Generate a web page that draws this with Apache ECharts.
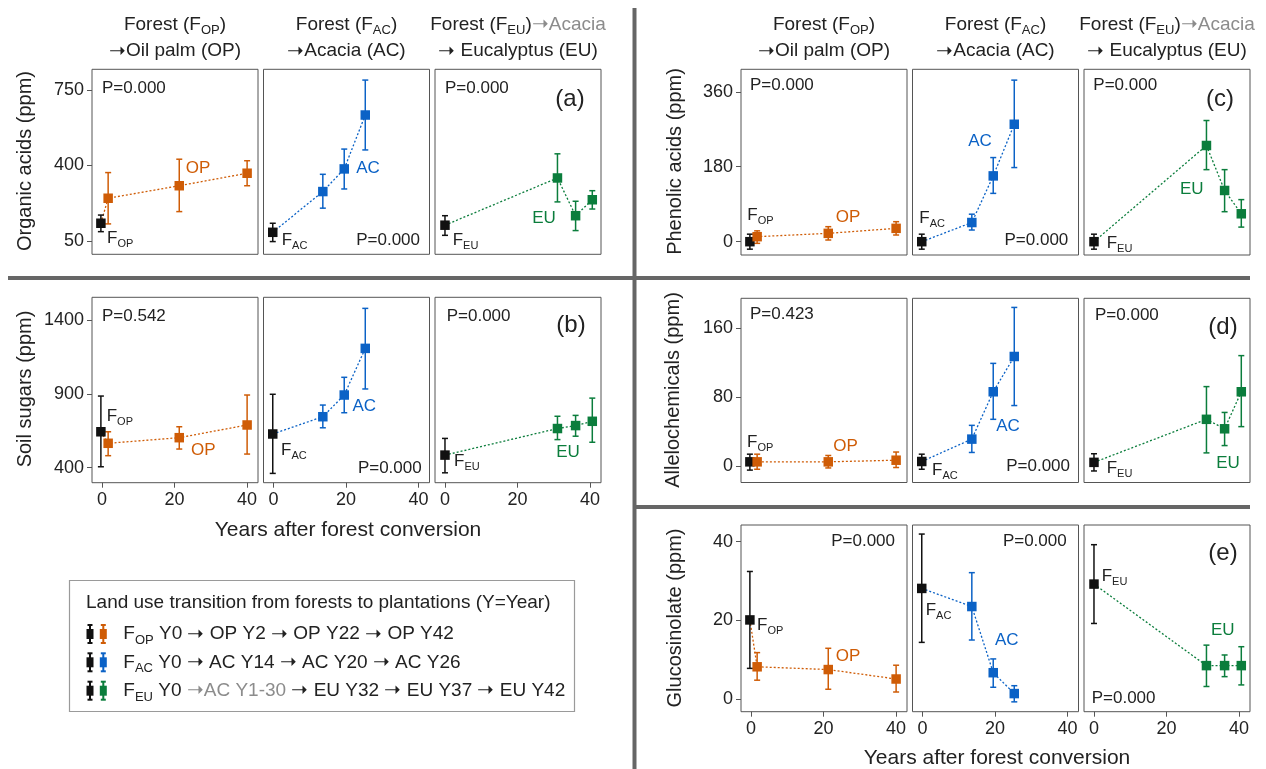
<!DOCTYPE html>
<html lang="en">
<head>
<meta charset="UTF-8">
<title>Forest to plantation conversion</title>
<script src="https://cdn.jsdelivr.net/npm/echarts@6/dist/echarts.min.js"></script>
<style>
  html, body { margin: 0; padding: 0; background: #fff; }
  #chart { width: 1266px; height: 769px; }
</style>
</head>
<body>
<div id="chart"></div>
<script>
const FONT = '"Liberation Sans", Arial, Helvetica, sans-serif';
const INK = '#222';
const ARROW = '\u279D';

// years after conversion: forest reference, then the three plantation ages
const yearsOP = [-0.3, 1.7, 21.3, 40];
const yearsAC = [-0.2, 13.6, 19.5, 25.3];
const yearsEU = [0, 31, 36, 40.6];
const xTicks = [0, 20, 40];

// [mean, lower, upper] for forest then plantations
const organicOP = [[132, 93, 170], [248, 129, 367], [306, 186, 429], [364, 306, 422]];
const organicAC = [[90, 47, 132], [279, 202, 359], [384, 291, 476], [634, 472, 796]];
const organicEU = [[123, 76, 167], [342, 231, 454], [167, 98, 234], [241, 198, 283]];
const organicTicks = [50, 400, 750];

const sugarOP = [[643, 406, 885], [565, 481, 643], [603, 526, 677], [689, 492, 892]];
const sugarAC = [[628, 361, 897], [745, 670, 824], [892, 772, 1012], [1208, 933, 1479]];
const sugarEU = [[485, 365, 598], [665, 590, 748], [685, 613, 754], [714, 572, 871]];
const sugarTicks = [400, 900, 1400];

const phenolicOP = [[0, -18, 18], [12, -4, 26], [20, 4, 36], [32, 16, 48]];
const phenolicAC = [[0, -18, 18], [46, 28, 66], [158, 116, 202], [282, 178, 388]];
const phenolicEU = [[0, -18, 18], [231, 173, 291], [123, 72, 173], [67, 35, 101]];
const phenolicTicks = [0, 180, 360];

const alleloOP = [[4.6, -5, 13.5], [4.6, -4, 13.5], [4.6, -2.5, 12], [6.5, -2, 16]];
const alleloAC = [[5, -4, 13.5], [31, 15.5, 47], [86, 54, 119], [127, 70, 184]];
const alleloEU = [[4, -6, 14], [54, 15, 92], [43, 23.5, 62], [86, 45.5, 128]];
const alleloTicks = [0, 80, 160];

const glucoOP = [[20.1, 7.8, 32.4], [8.2, 4.8, 11.8], [7.5, 2.5, 12.9], [5.1, 1.8, 8.6]];
const glucoAC = [[28.1, 14.4, 41.9], [23.5, 15, 32.1], [6.7, 3, 10.2], [1.4, -0.7, 3.4]];
const glucoEU = [[29.2, 19.2, 39.2], [8.5, 3.2, 13.7], [8.5, 5.7, 11.2], [8.5, 3.6, 13.3]];
const glucoTicks = [0, 20, 40];

const siteYears = [yearsOP, yearsAC, yearsEU];
const siteColors = ['#cf5c06', '#0b62c6', '#0b7d3c'];

const L_COLS = [92, 263.5, 435];
const R_COLS = [741, 912.5, 1084];
const BOX_W = 166;

const panels = [
  { sets: [organicOP, organicAC, organicEU], ticks: organicTicks, min: -12, max: 846, cols: L_COLS, top: 69.3, h: 185, xLab: false },
  { sets: [sugarOP, sugarAC, sugarEU], ticks: sugarTicks, min: 298, max: 1554, cols: L_COLS, top: 297.3, h: 185.4, xLab: true },
  { sets: [phenolicOP, phenolicAC, phenolicEU], ticks: phenolicTicks, min: -32, max: 414, cols: R_COLS, top: 69.3, h: 185.7, xLab: false },
  { sets: [alleloOP, alleloAC, alleloEU], ticks: alleloTicks, min: -19.4, max: 194.6, cols: R_COLS, top: 298.3, h: 184.2, xLab: false },
  { sets: [glucoOP, glucoAC, glucoEU], ticks: glucoTicks, min: -3.2, max: 44.2, cols: R_COLS, top: 525, h: 186.7, xLab: true }
];

function errorBar(params, api) {
  const x = api.value(0);
  const lo = api.coord([x, api.value(1)]);
  const hi = api.coord([x, api.value(2)]);
  const style = { stroke: api.visual('color'), lineWidth: 1.5 };
  const w = 3;
  return {
    type: 'group',
    children: [
      { type: 'line', shape: { x1: lo[0], y1: lo[1], x2: hi[0], y2: hi[1] }, style },
      { type: 'line', shape: { x1: lo[0] - w, y1: lo[1], x2: lo[0] + w, y2: lo[1] }, style },
      { type: 'line', shape: { x1: hi[0] - w, y1: hi[1], x2: hi[0] + w, y2: hi[1] }, style }
    ]
  };
}

const plain = v => String(v);
const grids = [], xAxes = [], yAxes = [], series = [];
panels.forEach(p => {
  p.cols.forEach((left, si) => {
    const g = grids.length;
    const first = si === 0;
    grids.push({ left, top: p.top, width: BOX_W, height: p.h, show: true,
      borderColor: '#555', borderWidth: 1, outerBoundsMode: 'none' });
    xAxes.push({
      type: 'value', gridIndex: g, min: -2.75, max: 43,
      axisLine: { show: false, onZero: false }, splitLine: { show: false },
      axisTick: { show: p.xLab, customValues: xTicks, length: 5, lineStyle: { color: '#555' } },
      axisLabel: { show: p.xLab, customValues: xTicks, formatter: plain, fontSize: 18, color: INK, fontFamily: FONT, margin: 8 }
    });
    yAxes.push({
      type: 'value', gridIndex: g, min: p.min, max: p.max,
      axisLine: { show: false, onZero: false }, splitLine: { show: false },
      axisTick: { show: first, customValues: p.ticks, length: 5, lineStyle: { color: '#555' } },
      axisLabel: { show: first, customValues: p.ticks, formatter: plain, fontSize: 18, color: INK, fontFamily: FONT, margin: 8 }
    });
    const xs = siteYears[si], vals = p.sets[si], col = siteColors[si];
    series.push({
      type: 'line', xAxisIndex: g, yAxisIndex: g, silent: true, z: 2,
      symbol: 'none', lineStyle: { color: col, width: 1.3, type: [2, 2] },
      data: xs.map((x, i) => [x, vals[i][0]])
    });
    series.push({
      type: 'custom', xAxisIndex: g, yAxisIndex: g, silent: true, z: 3,
      renderItem: errorBar, encode: { x: 0, y: [1, 2] },
      data: xs.map((x, i) => ({ value: [x, vals[i][1], vals[i][2]], itemStyle: { color: i ? col : '#111' } }))
    });
    series.push({
      type: 'scatter', xAxisIndex: g, yAxisIndex: g, silent: true, z: 4,
      symbol: 'rect', symbolSize: 9.5,
      data: xs.map((x, i) => ({ value: [x, vals[i][0]], itemStyle: { color: i ? col : '#111', opacity: 1 } }))
    });
  });
});

function T(x, y, text, o) {
  o = o || {};
  const size = o.size || 17;
  const color = o.color || INK;
  const align = o.align || 'left';
  return {
    type: 'text', x, y, z: 100, silent: true, rotation: o.rot || 0,
    style: {
      text, fill: color, font: size + 'px ' + FONT,
      align, textAlign: align, verticalAlign: 'middle', textVerticalAlign: 'middle',
      rich: {
        s: { fontSize: Math.round(size * 0.66), fontFamily: FONT, fill: color, padding: [Math.round(size * 0.66), 0, 0, 0] },
        a: { fontSize: Math.round(size * 1.05), fontFamily: FONT, fill: color },
        ga: { fontSize: Math.round(size * 1.05), fontFamily: FONT, fill: '#8c8c8c' },
        g: { fontSize: size, fontFamily: FONT, fill: '#8c8c8c' }
      }
    }
  };
}
const sep = (x1, y1, x2, y2) => ({ type: 'line', z: 90, silent: true,
  shape: { x1, y1, x2, y2 }, style: { stroke: '#666', lineWidth: 4 } });

const gfx = [];
// panel separators
gfx.push(sep(8, 278, 633, 278), sep(634.5, 8, 634.5, 769), sep(636, 278, 1250, 278), sep(636, 507, 1250, 507));

// column headers
const arr = '{a|' + ARROW + '}';
[[175, 346.5, 518], [824, 995.5, 1167]].forEach(c => {
  gfx.push(T(c[0], 24.3, 'Forest (F{s|OP})', { size: 19, align: 'center' }));
  gfx.push(T(c[0], 51, arr + 'Oil palm (OP)', { size: 19, align: 'center' }));
  gfx.push(T(c[1], 24.3, 'Forest (F{s|AC})', { size: 19, align: 'center' }));
  gfx.push(T(c[1], 51, arr + 'Acacia (AC)', { size: 19, align: 'center' }));
  gfx.push(T(c[2], 24.3, 'Forest (F{s|EU}){ga|' + ARROW + '}{g|Acacia}', { size: 19, align: 'center' }));
  gfx.push(T(c[2], 51, arr + ' Eucalyptus (EU)', { size: 19, align: 'center' }));
});

// axis titles
gfx.push(T(25, 161, 'Organic acids (ppm)', { size: 20, align: 'center', rot: Math.PI / 2 }));
gfx.push(T(25, 389, 'Soil sugars (ppm)', { size: 20, align: 'center', rot: Math.PI / 2 }));
gfx.push(T(675, 161.5, 'Phenolic acids (ppm)', { size: 20, align: 'center', rot: Math.PI / 2 }));
gfx.push(T(673, 390, 'Allelochemicals (ppm)', { size: 20, align: 'center', rot: Math.PI / 2 }));
gfx.push(T(675, 618, 'Glucosinolate (ppm)', { size: 20, align: 'center', rot: Math.PI / 2 }));
gfx.push(T(348, 530, 'Years after forest conversion', { size: 21, align: 'center' }));
gfx.push(T(997, 758, 'Years after forest conversion', { size: 21, align: 'center' }));

// panel letters
[['(a)', 570, 99], ['(b)', 571, 325], ['(c)', 1220, 99], ['(d)', 1223, 327], ['(e)', 1223, 553]]
  .forEach(d => gfx.push(T(d[1], d[2], d[0], { size: 24, align: 'center' })));

// P values
[
  [102, 88, 'P=0.000', 'left'], [420, 240, 'P=0.000', 'right'], [445, 88, 'P=0.000', 'left'],
  [102, 316.7, 'P=0.542', 'left'], [421.7, 468.3, 'P=0.000', 'right'], [446.7, 316.7, 'P=0.000', 'left'],
  [750, 85, 'P=0.000', 'left'], [1068.3, 240, 'P=0.000', 'right'], [1093.3, 85, 'P=0.000', 'left'],
  [750, 314.8, 'P=0.423', 'left'], [1070, 466.7, 'P=0.000', 'right'], [1095, 315, 'P=0.000', 'left'],
  [895, 541.7, 'P=0.000', 'right'], [1066.7, 541.7, 'P=0.000', 'right'], [1091.7, 698.3, 'P=0.000', 'left']
].forEach(d => gfx.push(T(d[0], d[1], d[2], { size: 17, align: d[3] })));

// forest labels (left aligned) and plantation labels (centered, coloured)
[
  [107, 238, 'OP'], [281.7, 240, 'AC'], [452.7, 240, 'EU'],
  [106.7, 416.7, 'OP'], [281, 450, 'AC'], [454, 461, 'EU'],
  [747.3, 215, 'OP'], [919.3, 218, 'AC'], [1106.7, 243, 'EU'],
  [747, 442, 'OP'], [932, 470, 'AC'], [1106.7, 468, 'EU'],
  [757, 625, 'OP'], [925.7, 610, 'AC'], [1101.7, 576.7, 'EU']
].forEach(d => gfx.push(T(d[0], d[1], 'F{s|' + d[2] + '}', { size: 17 })));
[
  [198, 168, 0], [368, 168, 1], [544, 218, 2],
  [203.3, 450, 0], [364.3, 406.7, 1], [568, 452, 2],
  [848, 217, 0], [980, 141.7, 1], [1191.7, 189, 2],
  [845.6, 446, 0], [1008, 426.7, 1], [1228, 463, 2],
  [848, 656.7, 0], [1006.7, 640, 1], [1222.7, 630, 2]
].forEach(d => gfx.push(T(d[0], d[1], ['OP', 'AC', 'EU'][d[2]], { size: 17, align: 'center', color: siteColors[d[2]] })));

// legend box
gfx.push({ type: 'rect', z: 95, silent: true, shape: { x: 69.5, y: 580.5, width: 505, height: 131 },
  style: { fill: 'none', stroke: '#9a9a9a', lineWidth: 1.2 } });
gfx.push(T(86, 602.7, 'Land use transition from forests to plantations (Y=Year)', { size: 19 }));
function keyIcon(x, y, color) {
  const st = { stroke: color, lineWidth: 2 };
  return { type: 'group', z: 100, silent: true, children: [
    { type: 'line', shape: { x1: x, y1: y - 9, x2: x, y2: y + 9 }, style: st },
    { type: 'line', shape: { x1: x - 2.5, y1: y - 9, x2: x + 2.5, y2: y - 9 }, style: st },
    { type: 'line', shape: { x1: x - 2.5, y1: y + 9, x2: x + 2.5, y2: y + 9 }, style: st },
    { type: 'rect', shape: { x: x - 3.5, y: y - 5, width: 7, height: 10 }, style: { fill: color } }
  ] };
}
const legendRows = [
  'F{s|OP} Y0 ' + arr + ' OP Y2 ' + arr + ' OP Y22 ' + arr + ' OP Y42',
  'F{s|AC} Y0 ' + arr + ' AC Y14 ' + arr + ' AC Y20 ' + arr + ' AC Y26',
  'F{s|EU} Y0 {ga|' + ARROW + '}{g|AC Y1-30} ' + arr + ' EU Y32 ' + arr + ' EU Y37 ' + arr + ' EU Y42'
];
[634, 662.3, 690.7].forEach((y, i) => {
  gfx.push(keyIcon(90, y, '#111'), keyIcon(103.3, y, siteColors[i]));
  gfx.push(T(123.3, y, legendRows[i], { size: 19 }));
});

const chart = echarts.init(document.getElementById('chart'), null, { renderer: 'canvas' });
chart.setOption({
  animation: false,
  backgroundColor: '#fff',
  grid: grids,
  xAxis: xAxes,
  yAxis: yAxes,
  series,
  graphic: { elements: gfx }
});
</script>
</body>
</html>
